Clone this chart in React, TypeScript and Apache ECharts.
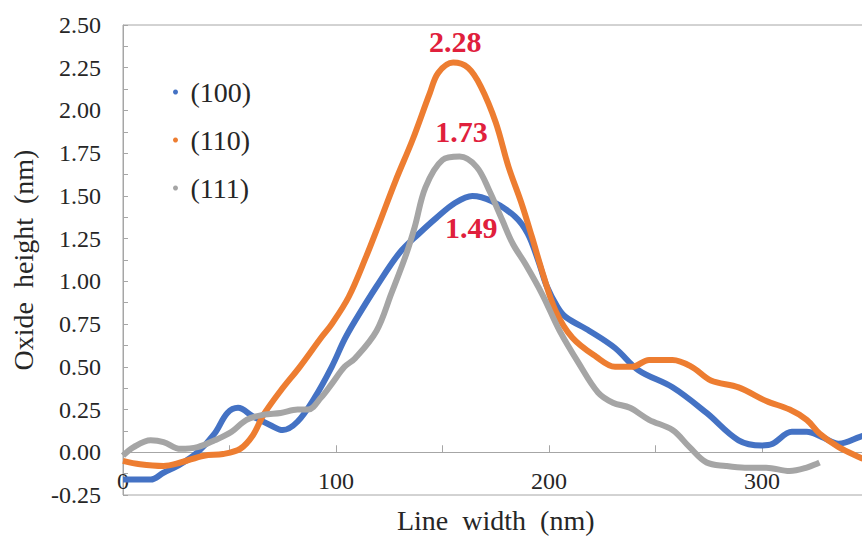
import React, { useEffect, useRef } from "react";
import * as echarts from "echarts";

const SERIES_NAMES = ["(100)", "(110)", "(111)"];
const COLORS = ["#4472C4", "#ED7D31", "#A5A5A5"];

const S100: [number, number][] = [
  [0, -0.16], [8, -0.16], [13, -0.16], [19, -0.12], [27, -0.07], [35, 0.0], [43, 0.11],
  [49, 0.23], [54, 0.26], [61, 0.21], [69, 0.16], [75, 0.13], [82, 0.18], [90, 0.32],
  [98, 0.5], [104, 0.66], [109, 0.77], [119, 0.97], [130, 1.17], [139, 1.28], [147, 1.37],
  [156, 1.46], [164, 1.5], [173, 1.47], [184, 1.38], [190, 1.28], [195, 1.12], [199, 0.97],
  [204, 0.85], [208, 0.79], [219, 0.71], [231, 0.61], [242, 0.48], [258, 0.38], [274, 0.23],
  [289, 0.07], [300, 0.04], [305, 0.05], [314, 0.12], [321, 0.12], [328, 0.09], [336, 0.05],
  [346, 0.09], [350, 0.11],
];

const S110: [number, number][] = [
  [0, -0.05], [8, -0.07], [19, -0.08], [27, -0.06], [38, -0.02], [47, -0.01], [55, 0.02],
  [61, 0.1], [66, 0.22], [74, 0.36], [83, 0.5], [93, 0.67], [98, 0.75], [106, 0.91],
  [114, 1.14], [120, 1.33], [128, 1.59], [136, 1.83], [144, 2.1], [148, 2.22], [155, 2.28],
  [162, 2.25], [168, 2.14], [175, 1.93], [181, 1.67], [187, 1.46], [192, 1.26], [197, 1.05],
  [203, 0.83], [211, 0.67], [222, 0.56], [231, 0.5], [239, 0.5], [247, 0.54], [258, 0.54],
  [267, 0.5], [276, 0.42], [289, 0.38], [302, 0.3], [313, 0.25], [321, 0.19], [327, 0.11],
  [336, 0.03], [346, -0.03], [350, -0.05],
];

const S111: [number, number][] = [
  [0, -0.02], [5, 0.03], [13, 0.07], [19, 0.06], [27, 0.02], [35, 0.03], [43, 0.07],
  [51, 0.12], [58, 0.19], [66, 0.22], [74, 0.23], [82, 0.25], [87, 0.25], [93, 0.32],
  [98, 0.4], [104, 0.5], [109, 0.55], [119, 0.71], [126, 0.93], [133, 1.16], [137, 1.32],
  [142, 1.55], [150, 1.71], [158, 1.73], [166, 1.67], [172, 1.53], [178, 1.36], [183, 1.22],
  [189, 1.1], [197, 0.92], [205, 0.71], [214, 0.52], [223, 0.35], [230, 0.29], [238, 0.26],
  [247, 0.19], [258, 0.13], [266, 0.03], [274, -0.06], [283, -0.08], [292, -0.09],
  [302, -0.09], [313, -0.11], [321, -0.09], [327, -0.06],
];

const SERIES_DATA = [S100, S110, S111];

// peak annotations: [x, y]
const PEAKS: [number, number][] = [[164, 1.49], [155, 2.28], [158, 1.73]];
const PEAK_LABEL_OFFSETS: [number, number][] = [[-1, 30], [2, -21], [2, -25]];

const FONT = "'Liberation Serif', 'Times New Roman', serif";
const AXIS_GRAY = "#A6A6A6";
const TEXT = "#262626";

export default function App() {
  const ref = useRef<HTMLDivElement>(null);

  useEffect(() => {
    if (!ref.current) return;
    const chart = echarts.init(ref.current, null, { renderer: "svg" });
    chart.setOption({
      animation: false,
      backgroundColor: "#ffffff",
      grid: {
        show: true,
        left: 123,
        top: 25,
        width: 745.5,
        height: 470,
        borderColor: AXIS_GRAY,
        borderWidth: 1,
        outerBoundsMode: "none",
        containLabel: false,
      },
      legend: {
        orient: "vertical",
        left: 168,
        top: 73,
        icon: "circle",
        itemWidth: 20,
        itemHeight: 5,
        itemGap: 20,
        data: SERIES_NAMES,
        textStyle: { fontFamily: FONT, fontSize: 28, color: TEXT },
      },
      xAxis: {
        type: "value",
        min: 0,
        max: 350,
        interval: 50,
        name: "Line  width  (nm)",
        nameLocation: "middle",
        nameGap: 11,
        nameTextStyle: { fontFamily: FONT, fontSize: 28, color: TEXT },
        axisLine: { show: true, onZero: true, lineStyle: { color: AXIS_GRAY, width: 1 } },
        axisTick: { show: true, inside: true, length: 7, lineStyle: { color: AXIS_GRAY } },
        axisLabel: {
          inside: true,
          margin: 2,
          fontFamily: FONT,
          fontSize: 24,
          color: TEXT,
          formatter: (v: number) => (v % 100 === 0 ? String(v) : ""),
        },
        splitLine: { show: false },
      },
      yAxis: {
        type: "value",
        min: -0.25,
        max: 2.5,
        interval: 0.25,
        name: "Oxide  height  (nm)",
        nameLocation: "middle",
        nameGap: 86,
        nameRotate: 90,
        nameTextStyle: { fontFamily: FONT, fontSize: 28, color: TEXT },
        axisLine: { show: true, lineStyle: { color: AXIS_GRAY, width: 1 } },
        axisTick: { show: true, inside: true, length: 5, lineStyle: { color: AXIS_GRAY } },
        minorTick: { show: true, splitNumber: 2, length: 5, lineStyle: { color: AXIS_GRAY } },
        axisLabel: {
          margin: 22,
          fontFamily: FONT,
          fontSize: 24,
          color: TEXT,
          formatter: (v: number) => v.toFixed(2),
        },
        splitLine: { show: false },
      },
      series: SERIES_NAMES.map((name, i) => ({
        name,
        type: "line",
        data: SERIES_DATA[i],
        smooth: 0.35,
        showSymbol: false,
        symbol: "circle",
        color: COLORS[i],
        lineStyle: { color: COLORS[i], width: 6 },
        clip: true,
        markPoint: {
          symbol: "circle",
          symbolSize: 1,
          itemStyle: { color: "rgba(0,0,0,0)" },
          label: {
            show: true,
            position: "inside",
            offset: PEAK_LABEL_OFFSETS[i],
            formatter: () => PEAKS[i][1].toFixed(2),
            fontFamily: FONT,
            fontWeight: "bold",
            fontSize: 30,
            color: "#E0203C",
          },
          data: [{ coord: PEAKS[i], value: PEAKS[i][1] }],
        },
      })),
    });
    return () => chart.dispose();
  }, []);

  return (
    <div
      ref={ref}
      style={{ position: "fixed", left: 0, top: 0, width: 862, height: 541, background: "#fff" }}
    />
  );
}
